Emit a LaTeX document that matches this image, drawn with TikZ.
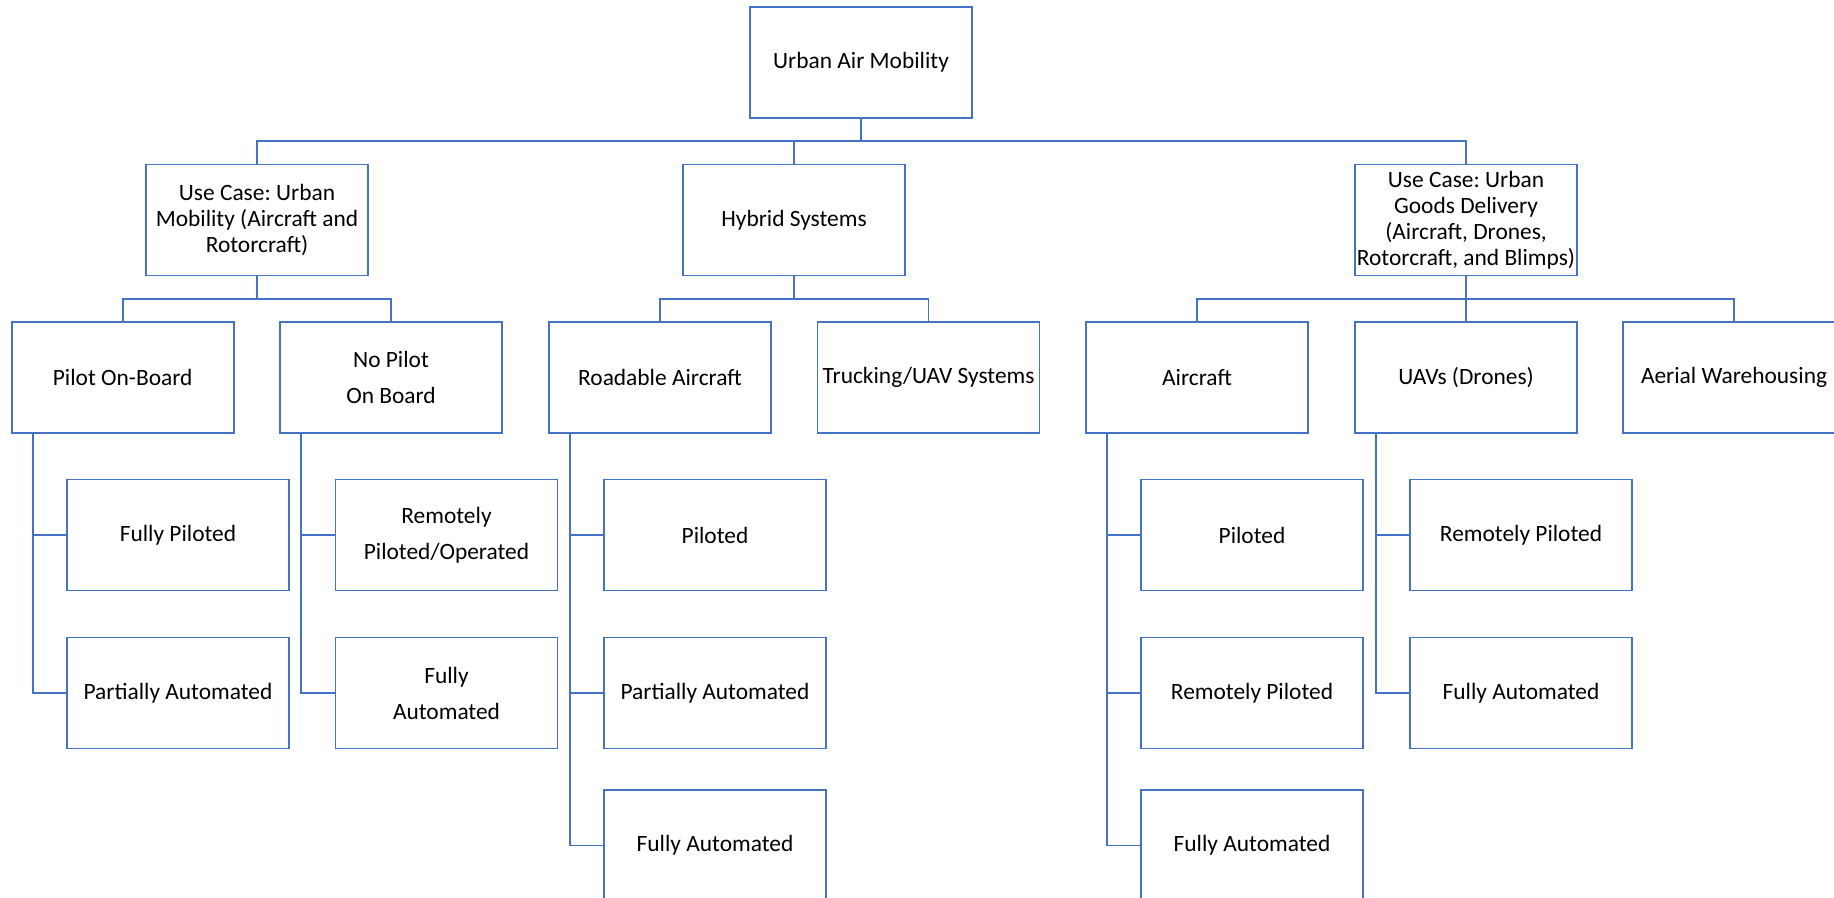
\documentclass[tikz,border=0pt]{standalone}
\usepackage{fontspec}
\setmainfont{Carlito}
\usetikzlibrary{calc}
\definecolor{lineblue}{HTML}{4472C4}
\frenchspacing
\tikzset{
  box/.style={draw=lineblue, line width=0.85pt, fill=white, rectangle, inner sep=1pt,
    minimum width=111pt, minimum height=55.5pt, align=center,
    font=\fontsize{11.7}{13}\selectfont},
  conn/.style={draw=lineblue, line width=0.85pt},
}
\begin{document}
\begin{tikzpicture}[x=0.5pt,y=-0.5pt]
\useasboundingbox (0,0) rectangle (1834,898);
\clip (0,0) rectangle (1834,898);
% level 1
\node[box] (root) at (861,62.5) {Urban Air Mobility};
% level 2
\node[box] (uc1) at (257,220) {Use Case: Urban\\Mobility (Aircraft and\\Rotorcraft)};
\node[box] (hyb) at (794,220) {Hybrid Systems};
\node[box] (uc2) at (1466,220) {Use Case: Urban\\Goods Delivery\\(Aircraft, Drones,\\Rotorcraft, and Blimps)};
% level 3
\node[box] (pob) at (122.7,377.5) {Pilot On-Board};
\node[box] (npob) at (391,377.5) {No Pilot\\[5pt]On Board};
\node[box] (road) at (660,377.5) {Roadable Aircraft};
\node[box] (truck) at (928.6,377.5) {Trucking/UAV Systems};
\node[box] (air) at (1197,377.5) {Aircraft};
\node[box] (uav) at (1466,377.5) {UAVs (Drones)};
\node[box] (aerial) at (1734,377.5) {Aerial Warehousing};
% level 4
\node[box] (pob1) at (178,535) {Fully Piloted};
\node[box] (pob2) at (178,693) {Partially Automated};
\node[box] (npob1) at (446.5,535) {Remotely\\[5pt]Piloted/Operated};
\node[box] (npob2) at (446.5,693) {Fully\\[5pt]Automated};
\node[box] (road1) at (715,535) {Piloted};
\node[box] (road2) at (715,693) {Partially Automated};
\node[box] (road3) at (715,845.5) {Fully Automated};
\node[box] (air1) at (1252,535) {Piloted};
\node[box] (air2) at (1252,693) {Remotely Piloted};
\node[box] (air3) at (1252,845.5) {Fully Automated};
\node[box] (uav1) at (1521,535) {Remotely Piloted};
\node[box] (uav2) at (1521,693) {Fully Automated};
% bus coordinates
\coordinate (bus1) at (0,141);
\coordinate (bus2) at (0,299);
% level 1 -> 2
\draw[conn] (root.south) -- (root.south |- bus1) -| (uc1.north);
\draw[conn] (root.south |- bus1) -| (hyb.north);
\draw[conn] (root.south |- bus1) -| (uc2.north);
% level 2 -> 3
\draw[conn] (uc1.south) -- (uc1.south |- bus2) -| (pob.north);
\draw[conn] (uc1.south |- bus2) -| (npob.north);
\draw[conn] (hyb.south) -- (hyb.south |- bus2) -| (road.north);
\draw[conn] (hyb.south |- bus2) -| (truck.north);
\draw[conn] (uc2.south) -- (uc2.south |- bus2) -| (air.north);
\draw[conn] (uc2.south |- bus2) -- (uav.north);
\draw[conn] (uc2.south |- bus2) -| (aerial.north);
% level 3 -> 4
\draw[conn] ($(pob.south west)+(22,0)$) |- (pob2.west);
\draw[conn] ($(pob.south west)+(22,0)$) |- (pob1.west);
\draw[conn] ($(npob.south west)+(22,0)$) |- (npob2.west);
\draw[conn] ($(npob.south west)+(22,0)$) |- (npob1.west);
\draw[conn] ($(road.south west)+(22,0)$) |- (road3.west);
\draw[conn] ($(road.south west)+(22,0)$) |- (road2.west);
\draw[conn] ($(road.south west)+(22,0)$) |- (road1.west);
\draw[conn] ($(air.south west)+(22,0)$) |- (air3.west);
\draw[conn] ($(air.south west)+(22,0)$) |- (air2.west);
\draw[conn] ($(air.south west)+(22,0)$) |- (air1.west);
\draw[conn] ($(uav.south west)+(22,0)$) |- (uav2.west);
\draw[conn] ($(uav.south west)+(22,0)$) |- (uav1.west);
\end{tikzpicture}
\end{document}
